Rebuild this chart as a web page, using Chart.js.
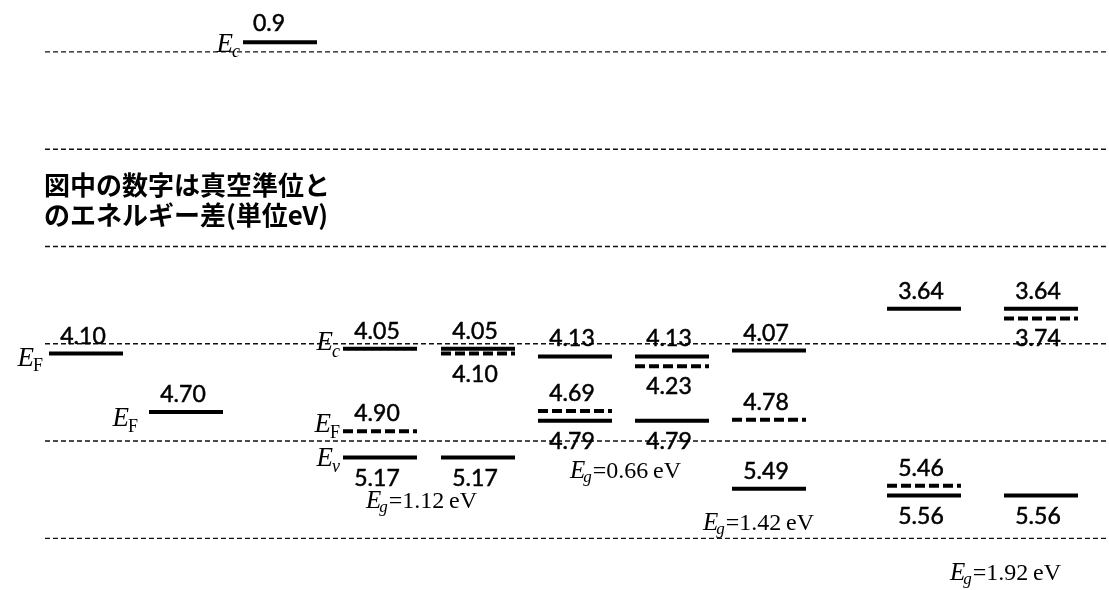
<!DOCTYPE html>
<html>
<head>
<meta charset="utf-8">
<script src="https://cdn.jsdelivr.net/npm/chart.js@4"></script>
<style>
  body { margin: 0; background: #fff; }
  #container { width: 1109px; height: 590px; }
</style>
</head>
<body>
<div id="container"><canvas id="c" width="1109" height="590"></canvas></div>
<script>
// energies below vacuum level (eV)
const columns = ["metalLow", "metalHigh", "Si_p", "Si_n", "Ge_p", "Ge_n", "GaAs", "GaP_p", "GaP_n"];
const conductionBand = [null, null, 4.05, 4.05, 4.13, 4.13, 4.07, 3.64, 3.64];
const valenceBand = [null, null, 5.17, 5.17, 4.79, 4.79, 5.49, 5.56, 5.56];
const fermiLevel = [4.10, 4.70, 4.90, 4.10, 4.69, 4.23, 4.78, 5.46, 3.74];
const insulatorCB = 0.9;
const bandGaps = ["1.12", "0.66", "1.42", "1.92"];
const gridLevels = [1, 2, 3, 4, 5, 6];
const noteLines = ["図中の数字は真空準位と", "のエネルギー差(単位eV)"];

// layout
const colX = [86, 186, 380, 478, 575, 672, 769, 924, 1041];
const halfW = 37;
const insulatorX = 280;
const cbSide = ["above", "above", "above", "above", "above", "above", "above", "above", "above"];
const vbSide = [null, null, "below", "below", "below", "below", "above", "below", "below"];
const efSide = ["above", "above", "above", "below", "above", "below", "above", "above", "below"];

const datasets = [];
gridLevels.forEach((g) => {
  datasets.push({
    data: [{ x: 45, y: g }, { x: 1109, y: g }],
    borderColor: "#111",
    borderWidth: 1.4,
    borderDash: [5, 3],
  });
});

function level(cx, v, dashed) {
  return {
    data: [{ x: cx - halfW, y: v }, { x: cx + halfW, y: v }],
    borderColor: "#000",
    borderWidth: 4,
    borderDash: dashed ? [10, 4] : [],
    borderCapStyle: "butt",
  };
}

datasets.push(level(insulatorX, insulatorCB, false));
for (let i = 0; i < columns.length; i++) {
  if (conductionBand[i] != null) datasets.push(level(colX[i], conductionBand[i], false));
  if (valenceBand[i] != null) datasets.push(level(colX[i], valenceBand[i], false));
  // metals have a single solid Fermi level, semiconductors a dashed one
  datasets.push(level(colX[i], fermiLevel[i], conductionBand[i] != null));
}

const numFont = "23px Lato";
const serif = "'Liberation Serif', 'DejaVu Serif', serif";

function drawSym(ctx, xRight, baseY, sub, subItalic, subDy) {
  ctx.textAlign = "left";
  ctx.textBaseline = "alphabetic";
  ctx.font = "italic 27px " + serif;
  const wE = ctx.measureText("E").width;
  ctx.font = (subItalic ? "italic " : "") + "18px " + serif;
  const wS = ctx.measureText(sub).width;
  const x0 = xRight - wE - wS;
  ctx.font = "italic 27px " + serif;
  ctx.fillText("E", x0, baseY);
  ctx.font = (subItalic ? "italic " : "") + "18px " + serif;
  ctx.fillText(sub, x0 + wE - 1, baseY + subDy);
}

function drawGap(ctx, x, baseY, gap) {
  ctx.textAlign = "left";
  ctx.textBaseline = "alphabetic";
  ctx.font = "italic 25px " + serif;
  ctx.fillText("E", x, baseY);
  let w = ctx.measureText("E").width;
  ctx.font = "italic 17px " + serif;
  ctx.fillText("g", x + w - 2, baseY + 4);
  w += ctx.measureText("g").width - 1;
  ctx.font = "24px " + serif;
  ctx.fillText("=" + gap + "\u2009eV", x + w, baseY);
}

const labelPlugin = {
  id: "labels",
  afterDatasetsDraw(chart) {
    const ctx = chart.ctx;
    const xs = chart.scales.x;
    const ys = chart.scales.y;
    ctx.save();
    ctx.fillStyle = "#000";
    ctx.strokeStyle = "#000";
    ctx.lineWidth = 0.5;

    function num(cx, v, side) {
      const py = ys.getPixelForValue(v);
      ctx.font = numFont;
      ctx.textAlign = "center";
      ctx.textBaseline = "alphabetic";
      const by = side === "above" ? py - 10 : py + 28;
      const tx = xs.getPixelForValue(cx) - 3;
      ctx.fillText(v.toFixed(2), tx, by);
      ctx.strokeText(v.toFixed(2), tx, by);
    }

    // insulator conduction band
    ctx.font = numFont;
    ctx.textAlign = "center";
    ctx.fillText(String(insulatorCB), xs.getPixelForValue(insulatorX) - 11, ys.getPixelForValue(insulatorCB) - 11);
    ctx.strokeText(String(insulatorCB), xs.getPixelForValue(insulatorX) - 11, ys.getPixelForValue(insulatorCB) - 11);

    for (let i = 0; i < columns.length; i++) {
      if (conductionBand[i] != null) num(colX[i], conductionBand[i], cbSide[i]);
      if (valenceBand[i] != null) num(colX[i], valenceBand[i], vbSide[i]);
      num(colX[i], fermiLevel[i], efSide[i]);
    }

    // band symbols
    const lx = (cx) => xs.getPixelForValue(cx - halfW) - 2;
    drawSym(ctx, xs.getPixelForValue(insulatorX - halfW) - 2, ys.getPixelForValue(insulatorCB) + 10, "c", true, 5);
    drawSym(ctx, lx(colX[0]) - 3, ys.getPixelForValue(fermiLevel[0]) + 12, "F", false, 5);
    drawSym(ctx, lx(colX[1]) - 8, ys.getPixelForValue(fermiLevel[1]) + 14, "F", false, 6);
    drawSym(ctx, lx(colX[2]), ys.getPixelForValue(conductionBand[2]) + 1, "c", true, 7);
    drawSym(ctx, lx(colX[2]), ys.getPixelForValue(fermiLevel[2]) + 1, "F", false, 6);
    drawSym(ctx, lx(colX[2]), ys.getPixelForValue(valenceBand[2]) + 8, "v", true, 6);

    // band gaps
    drawGap(ctx, 366, 508, bandGaps[0]);
    drawGap(ctx, 570, 478, bandGaps[1]);
    drawGap(ctx, 703, 530, bandGaps[2]);
    drawGap(ctx, 950, 580, bandGaps[3]);

    // note
    ctx.font = "bold 26px 'Noto Sans CJK JP'";
    ctx.textAlign = "left";
    ctx.textBaseline = "middle";
    ctx.fillText(noteLines[0], 44, 185);
    ctx.fillText(noteLines[1], 44, 215);
    ctx.restore();
  },
};

new Chart(document.getElementById("c").getContext("2d"), {
  type: "line",
  data: { datasets: datasets },
  options: {
    responsive: false,
    animation: false,
    layout: { padding: { top: 13, bottom: 3, left: 0, right: 0 } },
    elements: { point: { radius: 0 }, line: { tension: 0 } },
    plugins: { legend: { display: false }, tooltip: { enabled: false } },
    scales: {
      x: { type: "linear", min: 0, max: 1109, display: false },
      y: { type: "linear", reverse: true, min: 0.6, max: 6.5, display: false },
    },
  },
  plugins: [labelPlugin],
});
</script>
</body>
</html>
